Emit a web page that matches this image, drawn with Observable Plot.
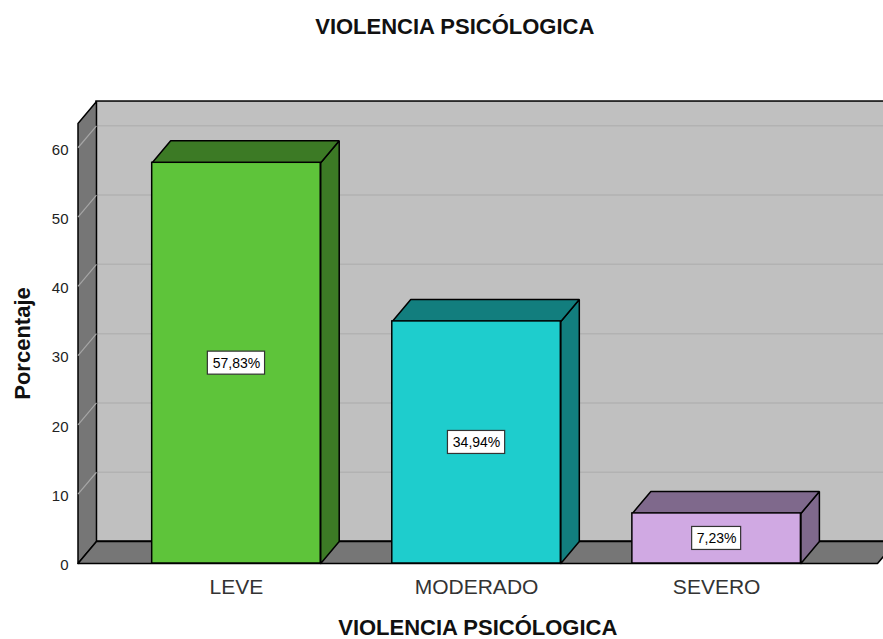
<!DOCTYPE html>
<html>
<head>
<meta charset="utf-8">
<script src="https://cdn.jsdelivr.net/npm/d3@7"></script>
<script src="https://cdn.jsdelivr.net/npm/@observablehq/plot@0.6"></script>
<style>
  html, body { margin: 0; padding: 0; background: white; overflow: hidden; }
  #chart svg { overflow: hidden; }
</style>
</head>
<body>
<div id="chart"></div>
<script>
// ---- data ----
const categories = ["LEVE", "MODERADO", "SEVERO"];
const values = [57.83, 34.94, 7.23];
const valueLabels = ["57,83%", "34,94%", "7,23%"];
const yTicks = [0, 10, 20, 30, 40, 50, 60];
const title = "VIOLENCIA PSICÓLOGICA";
const xTitle = "VIOLENCIA PSICÓLOGICA";
const yTitle = "Porcentaje";

// ---- styles / layout constants ----
const frontColors = ["#5ec43a", "#1ecdcd", "#d0a9e3"];
const sideColors  = ["#3c7a25", "#127e7e", "#7f698c"];
const X0 = -0.66, X1 = 2.67, YMAX = 63.5;   // front frame extent
const DX = 0.077, DY = 3.17;                // 3D depth (data units)
const HW = 0.351;                           // half bar width
const font = "'Liberation Sans', Arial, Helvetica, sans-serif";

const idx = categories.map((_, i) => i);

function poly(points, fill, stroke = "black", strokeWidth = 1.5) {
  const pts = [...points, points[0]];
  return Plot.line(pts, {
    x: d => d[0], y: d => d[1],
    fill, stroke, strokeWidth, strokeLinejoin: "miter", curve: "linear"
  });
}

const barFaces = idx.flatMap(i => {
  const v = values[i], a = i - HW, b = i + HW;
  return [
    poly([[b, 0], [b + DX, DY], [b + DX, v + DY], [b, v]], sideColors[i]),
    poly([[a, v], [b, v], [b + DX, v + DY], [a + DX, v + DY]], sideColors[i])
  ];
});

const boxHalf = i => (8.2 * valueLabels[i].length + 8) / 2 / 240.1;

const chart = Plot.plot({
  width: 883,
  height: 639,
  marginLeft: 77.5,
  marginRight: 6,
  marginTop: 123,
  marginBottom: 76,
  x: { domain: [X0, X1] },
  y: { domain: [0, YMAX] },
  color: { type: "identity" },
  style: { fontFamily: font, background: "white", overflow: "hidden" },
  marks: [
    // back wall
    Plot.rect([0], { x1: X0 + DX, x2: X1 + DX, y1: DY, y2: YMAX + DY, fill: "#c0c0c0", stroke: "black", strokeWidth: 1.5 }),
    // back wall gridlines
    Plot.ruleY(yTicks.slice(1), { y: d => d + DY, x1: X0 + DX, x2: X1 + DX, stroke: "#b2b2b2", strokeWidth: 1.5 }),
    // left side wall
    poly([[X0, 0], [X0 + DX, DY], [X0 + DX, YMAX + DY], [X0, YMAX]], "#767676"),
    // side wall gridlines
    Plot.link(yTicks.slice(1), { x1: X0, y1: d => d, x2: X0 + DX, y2: d => d + DY, stroke: "#a6a6a6", strokeWidth: 1.2 }),
    // floor
    poly([[X0, 0], [X1, 0], [X1 + DX, DY], [X0 + DX, DY]], "#767676"),
    // bars: side and top faces
    ...barFaces,
    // bars: front faces
    Plot.rect(idx, {
      x1: i => i - HW, x2: i => i + HW, y1: 0, y2: i => values[i],
      fill: i => frontColors[i], stroke: "black", strokeWidth: 1.5
    }),
    // value label boxes
    Plot.rect(idx, {
      x1: i => i - boxHalf(i), x2: i => i + boxHalf(i),
      y1: i => values[i] / 2 - 1.66, y2: i => values[i] / 2 + 1.66,
      fill: "white", stroke: "#333", strokeWidth: 1.2
    }),
    Plot.text(idx, {
      x: i => i, y: i => values[i] / 2, text: i => valueLabels[i],
      fontSize: 14, fill: "black"
    }),
    // axes
    Plot.axisY(yTicks, { tickSize: 0, tickPadding: 9.5, fontSize: 15, dy: 2, fill: "#222", label: null }),
    Plot.axisX([0, 1, 2], { tickFormat: i => categories[i], tickSize: 0, tickPadding: 16, fontSize: 21, fill: "#333", label: null }),
    // titles
    Plot.text([title], { frameAnchor: "top", dx: -23, dy: -90, lineAnchor: "bottom", fontSize: 22, fontWeight: "bold", fill: "#111" }),
    Plot.text([xTitle], { frameAnchor: "bottom", dy: 71, lineAnchor: "bottom", fontSize: 22, fontWeight: "bold", fill: "#111" }),
    Plot.text([yTitle], { frameAnchor: "left", dx: -48.5, rotate: -90, textAnchor: "middle", lineAnchor: "bottom", fontSize: 22, fontWeight: "bold", fill: "#111" })
  ]
});

document.getElementById("chart").appendChild(chart);
</script>
</body>
</html>
